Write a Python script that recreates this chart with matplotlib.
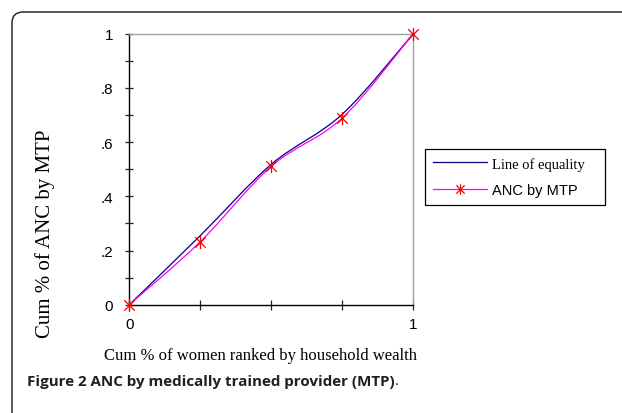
import matplotlib
matplotlib.use("Agg")
import matplotlib.pyplot as plt
from matplotlib.path import Path
from matplotlib.patches import PathPatch, FancyBboxPatch
from matplotlib.lines import Line2D

# ---- data ----
x_share = [0.0, 0.25, 0.5, 0.75, 1.0]
equality = [0.0, 0.255, 0.518, 0.703, 1.0]
anc_mtp = [0.0, 0.2325, 0.511, 0.689, 1.0]
ytick_vals = [0.0, 0.2, 0.4, 0.6, 0.8, 1.0]
ytick_labels = ["0", ".2", ".4", ".6", ".8", "1"]
xtick_vals = [0.0, 0.25, 0.5, 0.75, 1.0]
xtick_labels = ["0", "", "", "", "1"]
series_names = ["Line of equality", "ANC by MTP"]


def smooth_path(xs, ys):
    """Excel-style smoothed line as cubic Bezier path through the data points."""
    pts = list(zip(xs, ys))
    n = len(pts)
    verts = [pts[0]]
    codes = [Path.MOVETO]
    for i in range(n - 1):
        p0 = pts[i - 1] if i > 0 else pts[i]
        p1 = pts[i]
        p2 = pts[i + 1]
        p3 = pts[i + 2] if i + 2 < n else pts[i + 1]
        c1 = (p1[0] + (p2[0] - p0[0]) / 6, p1[1] + (p2[1] - p0[1]) / 6)
        c2 = (p2[0] - (p3[0] - p1[0]) / 6, p2[1] - (p3[1] - p1[1]) / 6)
        verts += [c1, c2, p2]
        codes += [Path.CURVE4] * 3
    return Path(verts, codes)


star = Path([(-1, -1), (1, 1), (-1, 1), (1, -1), (0, -1.25), (0, 1.25)],
            [Path.MOVETO, Path.LINETO, Path.MOVETO, Path.LINETO, Path.MOVETO, Path.LINETO])

W, H = 622, 414
fig = plt.figure(figsize=(W / 100, H / 100), dpi=100)
fig.patch.set_facecolor("white")

# rounded border
border = FancyBboxPatch((12, -30), 660, 401 + 30, boxstyle="round,pad=0,rounding_size=11",
                        transform=None, fill=False, edgecolor="#2b2b2b", linewidth=1.1)
fig.patches.append(border)

ax = fig.add_axes([129.3 / W, 1 - 305.7 / H, 284 / W, 271 / H])
ax.set_xlim(0, 1)
ax.set_ylim(0, 1)

blue = "#000080"
mag = "#FF00FF"
red = "#FF0000"

ax.add_patch(PathPatch(smooth_path(x_share, equality), facecolor="none", edgecolor=blue,
                       linewidth=0.9, zorder=3))
ax.add_patch(PathPatch(smooth_path(x_share, anc_mtp), facecolor="none", edgecolor=mag,
                       linewidth=0.9, zorder=3))
ax.plot(x_share, anc_mtp, linestyle="none", marker=star, markersize=9.5,
        markeredgecolor=red, markerfacecolor="none", markeredgewidth=0.9, zorder=4, clip_on=False)

for s in ["left", "bottom"]:
    ax.spines[s].set_color("black")
    ax.spines[s].set_linewidth(1.0)
for s in ["top", "right"]:
    ax.spines[s].set_color("#a0a0a0")
    ax.spines[s].set_linewidth(1.0)

ax.set_yticks(ytick_vals)
ax.set_yticklabels(ytick_labels)
ax.set_yticks([0.1, 0.3, 0.5, 0.7, 0.9], minor=True)
ax.set_xticks(xtick_vals)
ax.set_xticklabels(xtick_labels)
ax.tick_params(axis="y", which="both", direction="inout", length=6, width=0.9, color="#222222",
               labelsize=11, pad=8.5)
ax.tick_params(axis="x", which="both", direction="inout", length=7, width=0.9, color="#222222",
               labelsize=11, pad=5)
for lab in ax.get_xticklabels() + ax.get_yticklabels():
    lab.set_fontfamily("Liberation Sans")

fig.text(260 / W, 1 - 356 / H, "Cum % of women ranked by household wealth",
         family="Liberation Serif", fontsize=12, ha="center", va="center")
fig.text(45 / W, 1 - 234 / H, "Cum % of ANC by MTP", family="Liberation Serif",
         fontsize=15, ha="center", va="center", rotation=90)

# legend
h1 = Line2D([], [], color=blue, linewidth=0.9)
h2 = Line2D([], [], color=mag, linewidth=0.9, marker=star, markersize=7.5,
            markeredgecolor=red, markerfacecolor="none", markeredgewidth=0.9)
leg = fig.legend([h1, h2], series_names, loc="lower left",
                 bbox_to_anchor=(425 / W, 1 - 206 / H, 180 / W, 62 / H), mode="expand",
                 frameon=True, fancybox=False, edgecolor="black", framealpha=1,
                 handlelength=3.7, handletextpad=0.35, labelspacing=0.85, borderpad=0.55,
                 borderaxespad=0, fontsize=10.5, markerscale=1)
leg.get_frame().set_linewidth(0.9)
texts = leg.get_texts()
texts[0].set_fontfamily("Liberation Serif")
texts[1].set_fontfamily("Liberation Sans")
texts[1].set_fontsize(10.5)

cap = fig.text(27 / W, 1 - 382 / H, "Figure 2 ANC by medically trained provider (MTP)",
               family="Open Sans", fontweight="bold", fontsize=10.9, ha="left", va="center",
               color="#231f20")
ann = ax.annotate(".", xy=(1, 0), xycoords=cap, ha="left", va="bottom", family="Open Sans",
                  fontsize=10.9, color="#231f20", annotation_clip=False)

fig.savefig("out.png", dpi=100)
